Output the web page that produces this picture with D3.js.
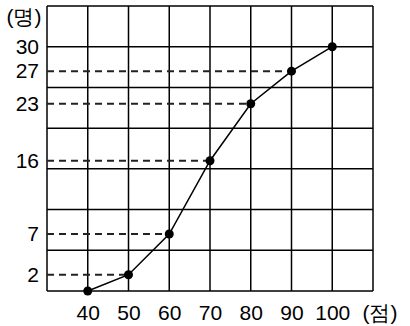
<!DOCTYPE html>
<html>
<head>
<meta charset="utf-8">
<script src="https://cdn.jsdelivr.net/npm/d3@7"></script>
<style>
    body { margin: 0; background: #fff; }
    svg text { font-family: "Liberation Sans", Arial, sans-serif; fill: #000; }
</style>
</head>
<body>
<div id="chart"></div>
<script>
// scores (x) and cumulative counts (y)
var scores = [40, 50, 60, 70, 80, 90, 100];
var counts = [0, 2, 7, 16, 23, 27, 30];
var yTickLabels = [2, 7, 16, 23, 27, 30];
var xTickLabels = [40, 50, 60, 70, 80, 90, 100];

var width = 410, height = 326;
var margin = { top: 6, right: 37, bottom: 35, left: 47 };
var w = width - margin.left - margin.right;
var h = height - margin.top - margin.bottom;

var svg = d3.select("#chart").append("svg")
    .attr("width", width)
    .attr("height", height);

var g = svg.append("g")
    .attr("transform", "translate(" + margin.left + "," + margin.top + ")");

var xScale = d3.scaleLinear().domain([30, 110]).range([0, w]);
var yScale = d3.scaleLinear().domain([0, 35]).range([h, 0]);

// grid
g.append("g")
    .selectAll("line")
    .data(d3.range(30, 111, 10))
    .enter().append("line")
    .attr("x1", function (d) { return xScale(d); })
    .attr("x2", function (d) { return xScale(d); })
    .attr("y1", 0)
    .attr("y2", h)
    .attr("stroke", "#000")
    .attr("stroke-width", 1.5);

g.append("g")
    .selectAll("line")
    .data(d3.range(0, 36, 5))
    .enter().append("line")
    .attr("x1", 0)
    .attr("x2", w)
    .attr("y1", function (d) { return yScale(d); })
    .attr("y2", function (d) { return yScale(d); })
    .attr("stroke", "#000")
    .attr("stroke-width", 1.5);

// dashed guides from the y axis to each point (not where a grid line already is)
var points = scores.map(function (s, i) { return { x: s, y: counts[i] }; });

g.append("g")
    .selectAll("line")
    .data(points.filter(function (d) { return d.y % 5 !== 0; }))
    .enter().append("line")
    .attr("x1", 0)
    .attr("x2", function (d) { return xScale(d.x); })
    .attr("y1", function (d) { return yScale(d.y); })
    .attr("y2", function (d) { return yScale(d.y); })
    .attr("stroke", "#222")
    .attr("stroke-width", 2)
    .attr("stroke-dasharray", "7,5");

// polyline
var line = d3.line()
    .x(function (d) { return xScale(d.x); })
    .y(function (d) { return yScale(d.y); });

g.append("path")
    .datum(points)
    .attr("d", line)
    .attr("fill", "none")
    .attr("stroke", "#000")
    .attr("stroke-width", 1.5);

g.selectAll(".dot")
    .data(points)
    .enter().append("circle")
    .attr("class", "dot")
    .attr("cx", function (d) { return xScale(d.x); })
    .attr("cy", function (d) { return yScale(d.y); })
    .attr("r", 4.5)
    .attr("fill", "#000");

// y labels
var yAxis = d3.axisLeft(yScale)
    .tickValues(yTickLabels)
    .tickSize(0)
    .tickPadding(8);

var yg = g.append("g").call(yAxis);
yg.select(".domain").remove();
yg.selectAll("text").style("font-size", "21px").attr("fill", "#000");

// x labels
var xAxis = d3.axisBottom(xScale)
    .tickValues(xTickLabels)
    .tickSize(0)
    .tickPadding(14);

var xg = g.append("g")
    .attr("transform", "translate(0," + h + ")")
    .call(xAxis);
xg.select(".domain").remove();
xg.selectAll("text").style("font-size", "21px").attr("fill", "#000");

// unit labels
svg.append("text")
    .attr("x", 24)
    .attr("y", 24)
    .style("text-anchor", "middle")
    .style("font-size", "21px")
    .text("(명)");

svg.append("text")
    .attr("x", 380)
    .attr("y", 320)
    .style("text-anchor", "middle")
    .style("font-size", "21px")
    .text("(점)");
</script>
</body>
</html>
